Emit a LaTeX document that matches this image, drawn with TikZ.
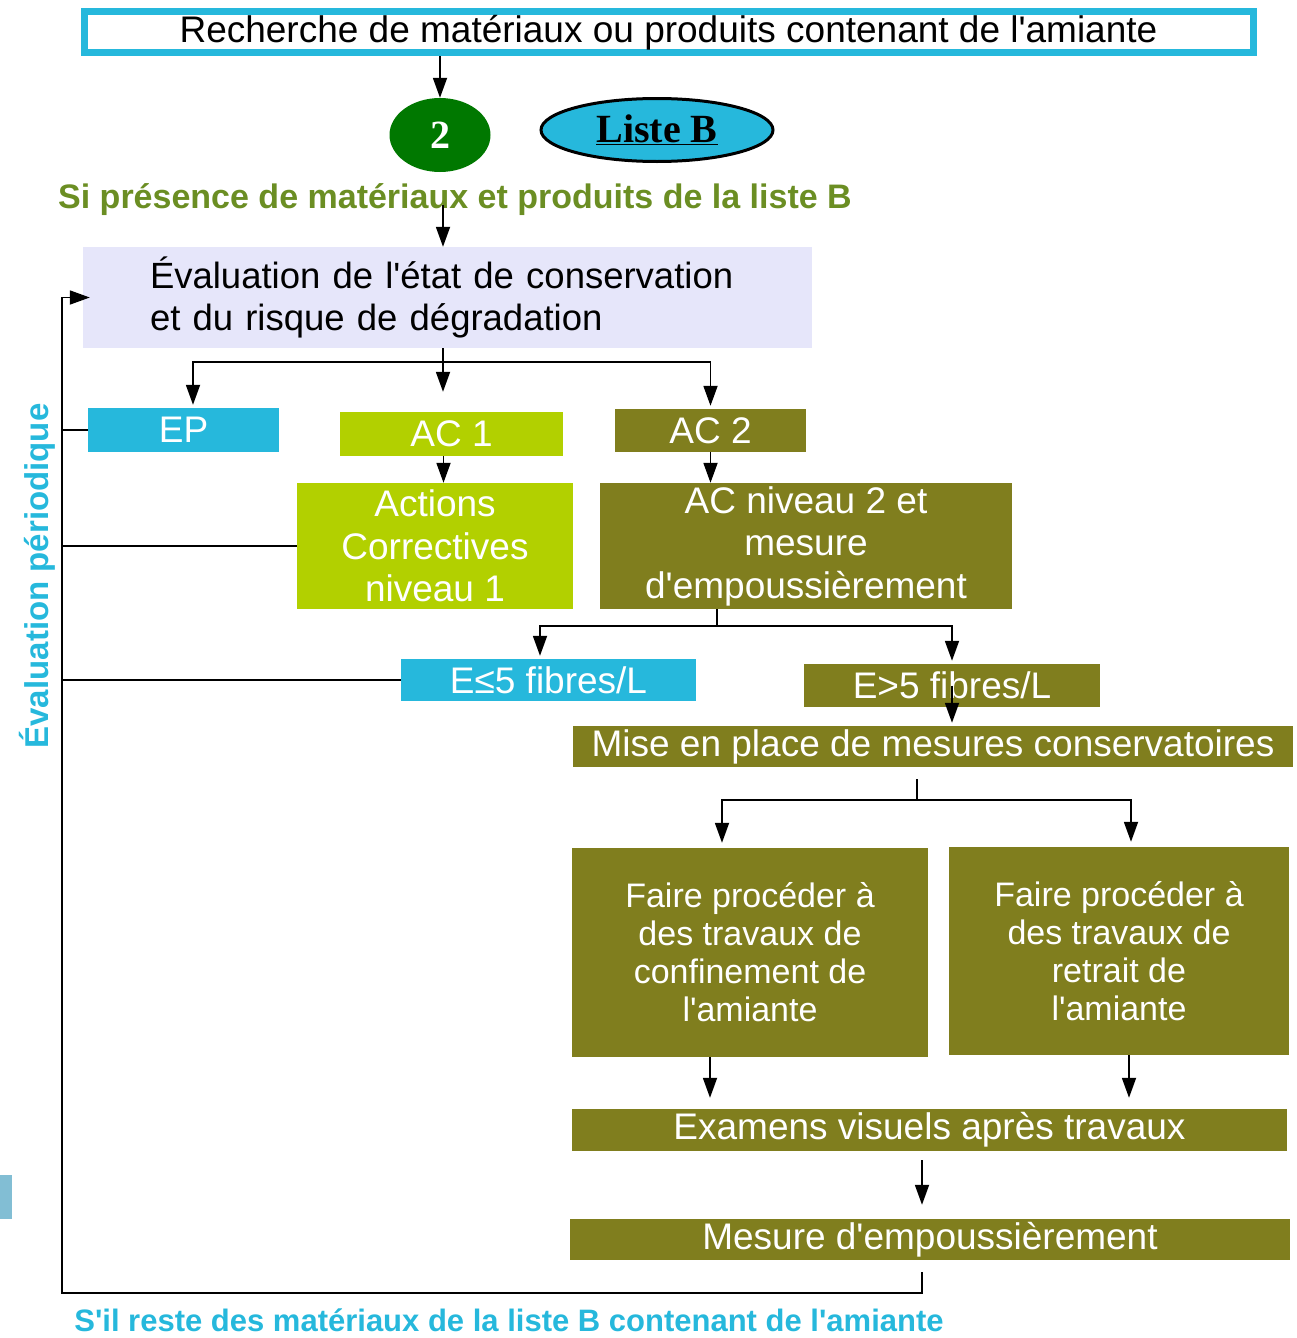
\documentclass[tikz,border=0pt]{standalone}
\usepackage{fontspec}
\setmainfont{Liberation Sans}
\newfontfamily\serifbold{Liberation Serif}
\usetikzlibrary{arrows.meta,calc,shapes.geometric}

\definecolor{cyanB}{RGB}{38,184,220}
\definecolor{limeB}{RGB}{178,208,0}
\definecolor{oliveB}{RGB}{128,126,30}
\definecolor{greenB}{RGB}{0,120,0}
\definecolor{greenTxt}{RGB}{107,142,35}
\definecolor{lavB}{RGB}{230,230,250}
\definecolor{tabB}{RGB}{130,190,212}

\newcommand\bigfont{\fontsize{37}{42.5}\selectfont}
\newcommand\workfont{\fontsize{34}{38}\selectfont}
\newcommand\notefont{\fontsize{33}{38}\selectfont\bfseries}
\newcommand\ap{\textquotesingle}

\tikzset{
  box/.style={inner sep=0pt, text=white, align=center, font=\bigfont},
  line/.style={line width=1.8pt},
  arr/.style={line, -{Triangle[length=20pt,width=14pt]}, shorten >=3pt},
}

\begin{document}
\begin{tikzpicture}[x=1pt,y=-1pt]
  \useasboundingbox (0,0) rectangle (1297,1338);

  % top of the chart
  \node[box, text=black, fill=white, draw=cyanB, line width=7pt,
    minimum width=1169pt, minimum height=41pt] (search) at (668.5,32.5)
    {Recherche de matériaux ou produits contenant de l\ap amiante};
  \node[ellipse, fill=greenB, minimum width=101pt, minimum height=74pt, inner sep=0pt,
    text=white, font=\serifbold\fontsize{40}{40}\selectfont\bfseries] (two) at (440,135) {2};
  \node[ellipse, fill=cyanB, draw=black, line width=3pt, minimum width=232pt,
    minimum height=63pt, inner sep=0pt,
    font=\serifbold\fontsize{40}{40}\selectfont\bfseries] (listeB) at (657,130) {\underline{Liste B}};
  \node[text=greenTxt, font=\fontsize{34}{38}\selectfont\bfseries] (presence) at (455,200)
    {Si présence de matériaux et produits de la liste B};

  \node[fill=lavB, inner xsep=67pt, inner ysep=0pt, text width=595pt, align=left,
    minimum height=101pt, font=\fontsize{36.5}{42}\selectfont] (eval) at (447.5,297.5)
    {Évaluation de l\ap état de conservation\\et du risque de dégradation};

  % first choice
  \node[box, fill=cyanB, minimum width=191pt, minimum height=44pt] (ep) at (183.5,430) {EP};
  \node[box, fill=limeB, minimum width=223pt, minimum height=44pt] (ac1) at (451.5,434) {AC 1};
  \node[box, fill=oliveB, minimum width=191pt, minimum height=43pt] (ac2) at (710.5,430.5) {AC 2};

  \node[box, fill=limeB, minimum width=276pt, minimum height=126pt] (actions) at (435,546)
    {Actions\\Correctives\\niveau 1};
  \node[box, fill=oliveB, minimum width=412pt, minimum height=126pt] (acniv) at (806,546)
    {AC niveau 2 et\\mesure\\d\ap empoussièrement};

  \node[box, fill=cyanB, minimum width=295pt, minimum height=42pt] (ele) at (548.5,680) {E≤5 fibres/L};
  \node[box, fill=oliveB, minimum width=296pt, minimum height=43pt] (egt) at (952,685.5) {E>5 fibres/L};

  \node[box, fill=oliveB, minimum width=720pt, minimum height=41pt] (mise) at (933,746.5)
    {Mise en place de mesures conservatoires};

  \node[box, font=\workfont, fill=oliveB, minimum width=356pt, minimum height=209pt] (conf) at (750,952.5)
    {Faire procéder à\\des travaux de\\confinement de\\l\ap amiante};
  \node[box, font=\workfont, fill=oliveB, minimum width=340pt, minimum height=208pt] (retr) at (1119,951)
    {Faire procéder à\\des travaux de\\retrait de\\l\ap amiante};

  \node[box, fill=oliveB, minimum width=715pt, minimum height=42pt] (exam) at (929.5,1130)
    {Examens visuels après travaux};
  \node[box, fill=oliveB, minimum width=720pt, minimum height=41pt] (mesure) at (930,1239.5)
    {Mesure d\ap empoussièrement};

  \node[rotate=90, text=cyanB, font=\notefont] (perio) at (37,576) {Évaluation périodique};
  \node[text=cyanB, font=\fontsize{31}{36}\selectfont\bfseries] (reste) at (509,1320)
    {S\ap il reste des matériaux de la liste B contenant de l\ap amiante};

  \fill[tabB] (0,1175) rectangle (12,1219);

  % connectors
  \draw[arr, shorten >=0pt] (two.north |- search.south) -- (two.north);
  \coordinate (p1) at (443,205);
  \draw[arr, shorten >=0pt] (p1) -- (p1 |- eval.north);

  \coordinate (s1) at (443,362);
  \draw[line] (s1 |- eval.south) -- (s1);
  \draw[arr] (s1) -| ([xshift=9.5pt]ep.north);
  \draw[arr, shorten >=20pt] (s1) -- (s1 |- ac1.north);
  \draw[arr] (s1) -| (ac2.north);

  \draw[arr, shorten >=0pt] ([xshift=-8pt]ac1.south) -- ([xshift=-8pt]ac1.south |- actions.north);
  \draw[arr, shorten >=0pt] (ac2.south) -- (ac2.south |- acniv.north);

  \coordinate (s2) at (717,626);
  \draw[line] (s2 |- acniv.south) -- (s2);
  \draw[arr] (s2) -| ([xshift=-8.5pt]ele.north);
  \draw[arr] (s2) -| (egt.north);
  \draw[arr] (egt.center) -- (egt.center |- mise.north);

  \coordinate (s3) at (917,800);
  \draw[line, shorten <=12pt] (s3 |- mise.south) -- (s3);
  \draw[arr, shorten >=5pt] (s3) -| ([xshift=-28pt]conf.north);
  \draw[arr, shorten >=5pt] (s3) -| ([xshift=12pt]retr.north);

  \draw[arr, shorten >=11pt] ([xshift=-40pt]conf.south) -- ([xshift=-40pt]conf.south |- exam.north);
  \draw[arr, shorten >=11pt] ([xshift=10pt]retr.south) -- ([xshift=10pt]retr.south |- exam.north);
  \draw[arr, shorten <=9pt, shorten >=14pt] ([xshift=-7.5pt]exam.south) -- ([xshift=-7.5pt]exam.south |- mesure.north);

  % periodic loop
  \coordinate (loop) at (62,1293);
  \draw[arr, shorten <=12pt, shorten >=-7pt] ([xshift=-8pt]mesure.south) |- (loop) |- (eval.west);
  \foreach \n in {ep,actions,ele} {
    \draw[line] (loop |- \n.west) -- (\n.west);
  }
\end{tikzpicture}
\end{document}
